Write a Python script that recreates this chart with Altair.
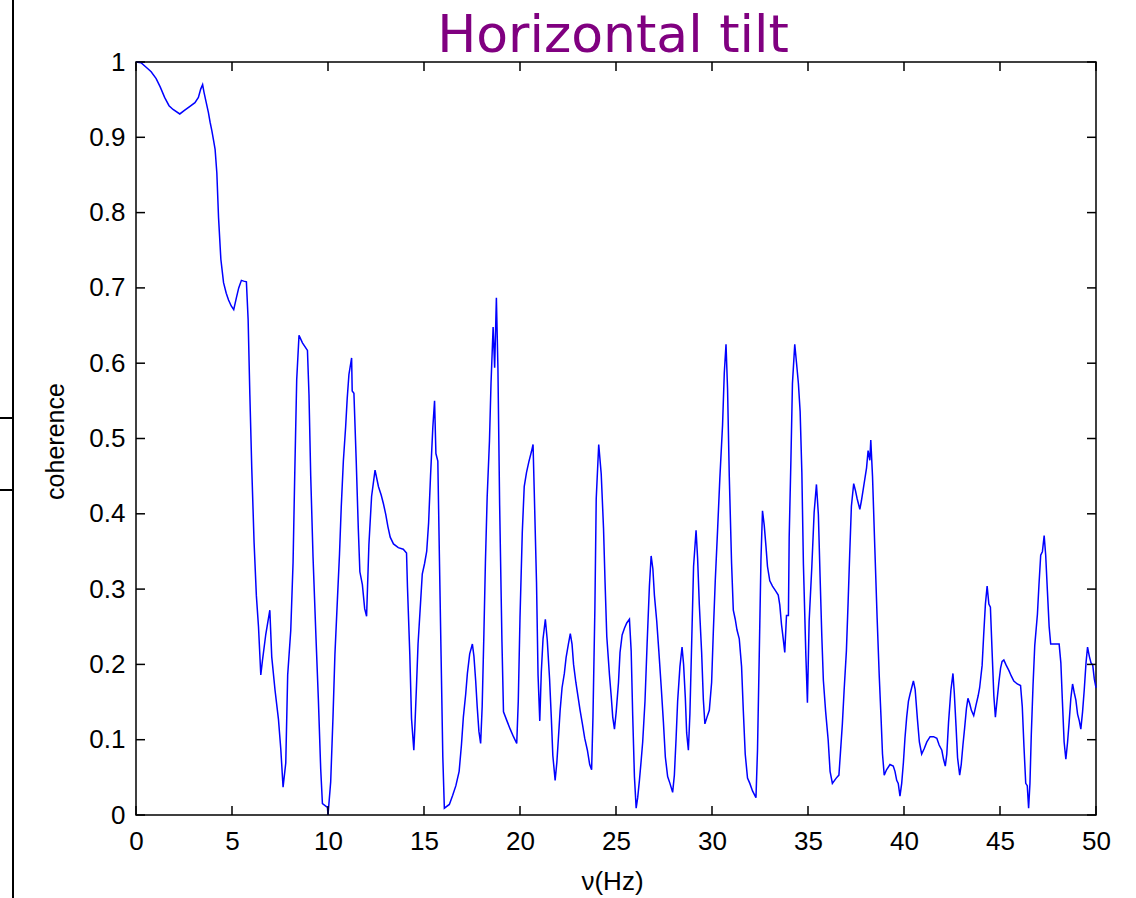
import altair as alt
import pandas as pd

# ---- data (frequency in Hz, coherence) ----
freq_hz = [
    0, 0.26, 0.53, 0.79, 1.05, 1.26, 1.49, 1.72, 1.93, 2.28, 2.54, 2.81, 3.07, 3.25, 3.37, 3.47, 3.54, 3.65, 3.77,
    3.86, 3.95, 4.04, 4.12, 4.21, 4.3, 4.42, 4.56, 4.7, 4.82, 4.96, 5.09, 5.23, 5.35, 5.49, 5.61, 5.75, 5.84, 5.93,
    6.03, 6.15, 6.27, 6.38, 6.5, 6.59, 6.76, 6.97, 7.07, 7.24, 7.42, 7.54, 7.66, 7.8, 7.9, 8.06, 8.18, 8.27, 8.37,
    8.49, 8.67, 8.93, 9.01, 9.1, 9.22, 9.36, 9.5, 9.62, 9.71, 9.97, 10.0, 10.14, 10.26, 10.36, 10.49, 10.6, 10.69,
    10.8, 10.92, 11.0, 11.09, 11.23, 11.26, 11.35, 11.47, 11.58, 11.66, 11.79, 11.91, 12.01, 12.13, 12.27, 12.45,
    12.63, 12.77, 12.89, 13.01, 13.12, 13.24, 13.41, 13.66, 13.92, 14.09, 14.14, 14.26, 14.35, 14.47, 14.52, 14.61,
    14.69, 14.83, 14.91, 15.03, 15.14, 15.24, 15.34, 15.46, 15.55, 15.62, 15.72, 15.8, 15.89, 15.98, 16.06, 16.32,
    16.49, 16.66, 16.83, 16.95, 17.05, 17.17, 17.26, 17.38, 17.52, 17.6, 17.69, 17.77, 17.86, 17.95, 18.03, 18.12,
    18.2, 18.29, 18.41, 18.49, 18.6, 18.68, 18.77, 18.85, 18.94, 19.06, 19.14, 19.32, 19.49, 19.66, 19.83, 19.91,
    20.0, 20.12, 20.22, 20.34, 20.46, 20.6, 20.68, 20.74, 20.86, 20.94, 21.03, 21.11, 21.2, 21.32, 21.42, 21.54,
    21.63, 21.71, 21.83, 21.92, 22.0, 22.09, 22.19, 22.31, 22.4, 22.52, 22.62, 22.71, 22.79, 22.91, 23.03, 23.13,
    23.25, 23.37, 23.51, 23.63, 23.73, 23.8, 23.9, 23.97,
    24.1, 24.23, 24.35, 24.43, 24.52, 24.66, 24.75, 24.83, 24.92, 25.01, 25.13, 25.21, 25.32, 25.44, 25.56, 25.7,
    25.79, 25.87, 25.96, 26.05, 26.13, 26.22, 26.31, 26.39, 26.51, 26.62, 26.74, 26.83, 26.92, 27.0, 27.12, 27.23,
    27.35, 27.47, 27.57, 27.69, 27.81, 27.95, 28.04, 28.13, 28.21, 28.33, 28.44, 28.52, 28.61, 28.68, 28.77, 28.85,
    28.94, 29.04, 29.17, 29.25, 29.34, 29.46, 29.55, 29.63, 29.74, 29.86, 29.98, 30.07, 30.17, 30.29, 30.41, 30.55,
    30.64, 30.73, 30.81, 30.9, 31.02, 31.11, 31.21, 31.3, 31.42, 31.54, 31.63, 31.73, 31.85, 31.97, 32.11, 32.29,
    32.37, 32.46, 32.55, 32.63, 32.72, 32.81, 32.89, 33.01, 33.15, 33.33, 33.45, 33.53, 33.62, 33.71, 33.79, 33.88,
    33.98, 34.02, 34.11, 34.19, 34.31, 34.4, 34.5, 34.59, 34.68, 34.76, 34.89, 34.97, 35.06, 35.2, 35.32, 35.44,
    35.54, 35.63, 35.72, 35.8, 35.92, 36.05, 36.15, 36.27,
    36.47, 36.61, 36.68, 36.79, 36.88, 37.0, 37.09, 37.17, 37.26, 37.38, 37.47, 37.56, 37.7, 37.78, 37.91, 38.05,
    38.13, 38.22, 38.27, 38.36, 38.48, 38.6, 38.71, 38.8, 38.88, 38.97, 39.09, 39.27, 39.44, 39.53, 39.62, 39.7,
    39.79, 39.88, 39.97, 40.05, 40.14, 40.23, 40.31, 40.4, 40.49, 40.58, 40.7, 40.8, 40.92, 41.05, 41.19, 41.36,
    41.54, 41.71, 41.83, 41.97, 42.06, 42.15, 42.23, 42.32, 42.44, 42.55, 42.62, 42.71, 42.79, 42.9, 42.98, 43.07,
    43.16, 43.25, 43.33, 43.42, 43.51, 43.63, 43.75, 43.86, 43.94, 44.07, 44.15, 44.24, 44.33, 44.42, 44.5, 44.59,
    44.68, 44.76, 44.85, 44.94, 45.03, 45.11, 45.2, 45.32, 45.46, 45.58, 45.72, 45.9, 46.07, 46.16, 46.25, 46.34,
    46.42, 46.49, 46.56, 46.63, 46.72, 46.81, 46.95, 47.03, 47.12, 47.21, 47.3, 47.38, 47.47, 47.56, 47.64, 47.82,
    48.08, 48.17, 48.25, 48.34, 48.43, 48.52, 48.6, 48.69, 48.78, 48.87, 48.95, 49.04, 49.13, 49.21, 49.3, 49.39,
    49.48, 49.56, 49.65, 49.74, 49.83, 49.91, 50.0,
]

coherence = [
    1.0, 0.999, 0.993, 0.987, 0.978, 0.967, 0.953, 0.942, 0.937, 0.931, 0.936, 0.941, 0.946, 0.953, 0.964, 0.97,
    0.96, 0.947, 0.933, 0.92, 0.909, 0.896, 0.884, 0.853, 0.793, 0.738, 0.707, 0.693, 0.684, 0.676, 0.671, 0.687,
    0.7, 0.71, 0.709, 0.708, 0.658, 0.558,
    0.46, 0.362, 0.291, 0.25, 0.186, 0.206, 0.24, 0.272, 0.21, 0.166, 0.127, 0.088, 0.037, 0.069, 0.186, 0.245,
    0.335, 0.455, 0.578, 0.637, 0.627, 0.617, 0.558, 0.45, 0.343, 0.245, 0.152, 0.061, 0.015, 0.01, 0.0, 0.044,
    0.13, 0.213, 0.286, 0.347, 0.409, 0.47, 0.516, 0.553, 0.585, 0.607, 0.563, 0.56, 0.47, 0.379, 0.323, 0.306,
    0.274, 0.264, 0.359, 0.423, 0.458,
    0.436, 0.425, 0.413, 0.399, 0.383, 0.369, 0.36, 0.355, 0.353, 0.348, 0.302, 0.214, 0.128, 0.086, 0.114, 0.172,
    0.227, 0.286, 0.32, 0.334, 0.35, 0.388, 0.45, 0.515, 0.55, 0.48, 0.47, 0.346, 0.211, 0.077, 0.009, 0.014,
    0.026, 0.039, 0.058, 0.093, 0.13, 0.16, 0.188, 0.214, 0.227, 0.211, 0.179, 0.144, 0.111, 0.095, 0.144, 0.241,
    0.337, 0.422, 0.497, 0.573, 0.648, 0.594, 0.687, 0.594, 0.411, 0.23, 0.137, 0.125, 0.114, 0.104, 0.095, 0.151,
    0.262, 0.376, 0.436, 0.455, 0.469, 0.483, 0.492, 0.432, 0.309, 0.186, 0.125, 0.19, 0.234, 0.26, 0.232, 0.181,
    0.13, 0.079, 0.046, 0.07, 0.102, 0.139, 0.169, 0.188, 0.209, 0.227, 0.241, 0.227, 0.2, 0.176, 0.156, 0.139,
    0.121, 0.102, 0.086, 0.067, 0.06, 0.13, 0.274, 0.42,
    0.492, 0.453, 0.381, 0.309, 0.237, 0.186, 0.158, 0.13, 0.114, 0.137, 0.176, 0.216, 0.239, 0.248, 0.255, 0.26,
    0.218, 0.132, 0.051, 0.009, 0.023, 0.046, 0.072, 0.097, 0.151, 0.227, 0.304, 0.344, 0.327, 0.292, 0.258, 0.218,
    0.172, 0.123, 0.077, 0.051, 0.042, 0.03, 0.053, 0.102, 0.151, 0.197, 0.223, 0.2, 0.156, 0.109, 0.086, 0.135,
    0.227, 0.33, 0.378, 0.341, 0.279, 0.216, 0.153, 0.121, 0.13, 0.139, 0.176, 0.244, 0.311, 0.378, 0.448, 0.518,
    0.587, 0.625, 0.566, 0.45, 0.334, 0.272, 0.26, 0.246, 0.234, 0.197, 0.139, 0.081, 0.049, 0.042, 0.032, 0.023,
    0.086, 0.211, 0.339, 0.404, 0.385, 0.357, 0.33, 0.311, 0.304, 0.297, 0.292, 0.279, 0.253, 0.234, 0.216, 0.265,
    0.265, 0.369, 0.471, 0.573, 0.625, 0.601, 0.573, 0.536, 0.455, 0.334, 0.211, 0.149, 0.258, 0.33, 0.402, 0.439,
    0.399, 0.316, 0.237, 0.179, 0.137, 0.1, 0.058, 0.042,
    0.049, 0.053, 0.079, 0.121, 0.165, 0.218, 0.283, 0.345, 0.41, 0.44, 0.431, 0.42, 0.406, 0.417, 0.438, 0.461,
    0.484, 0.471, 0.498, 0.45, 0.355, 0.262, 0.185, 0.132, 0.081, 0.053, 0.06, 0.067, 0.065, 0.058, 0.046, 0.042,
    0.025, 0.042, 0.07, 0.102, 0.13, 0.151, 0.16, 0.169, 0.178, 0.167, 0.127, 0.097, 0.081, 0.088, 0.097, 0.104,
    0.104, 0.102, 0.093, 0.086, 0.074, 0.065, 0.081, 0.123, 0.165, 0.188, 0.162, 0.118, 0.076, 0.053, 0.067, 0.093,
    0.116, 0.141, 0.155, 0.148, 0.139, 0.132, 0.146, 0.158, 0.169, 0.199, 0.239, 0.28, 0.304, 0.28, 0.276, 0.216,
    0.158, 0.13, 0.153, 0.176, 0.195, 0.204, 0.206, 0.199, 0.192, 0.185, 0.178, 0.174, 0.172, 0.144, 0.09, 0.042,
    0.039, 0.009, 0.042, 0.107, 0.172, 0.225, 0.267, 0.306, 0.345, 0.35, 0.371, 0.345, 0.297, 0.25, 0.227, 0.227,
    0.227, 0.202, 0.151, 0.097, 0.074, 0.097, 0.123, 0.155, 0.174, 0.162, 0.153, 0.134, 0.125, 0.114, 0.137, 0.167,
    0.202, 0.223, 0.211, 0.202, 0.199, 0.181, 0.169,
]

assert len(freq_hz) == len(coherence), (len(freq_hz), len(coherence))

x_ticks = [0, 5, 10, 15, 20, 25, 30, 35, 40, 45, 50]
y_ticks = [0, 0.1, 0.2, 0.3, 0.4, 0.5, 0.6, 0.7, 0.8, 0.9, 1]

title_text = "Horizontal tilt"
x_title = "ν(Hz)"
y_title = "coherence"

# ---- layout ----
W, H = 960, 753
PAD = {"left": 136, "top": 62, "right": 40, "bottom": 83}
FONT = "Liberation Sans, Arial, Helvetica, sans-serif"
TICK = 9

df = pd.DataFrame({"f": freq_hz, "c": coherence})
xt = pd.DataFrame({"f": x_ticks})
yt = pd.DataFrame({"c": y_ticks})

xscale = alt.Scale(domain=[0, 50], nice=False, zero=False)
yscale = alt.Scale(domain=[0, 1], nice=False, zero=False)

x_axis = alt.Axis(
    values=x_ticks, format="~g", title=x_title, grid=False, domain=False,
    ticks=False, tickSize=0, labelFont=FONT, labelFontSize=26, labelColor="black",
    labelPadding=13, labelFlush=False, labelOverlap=False,
    titleFont=FONT, titleFontSize=26, titleFontWeight="normal", titleColor="black",
    titleBaseline="alphabetic", titleAlign="center", titleX=476, titleY=74,
)
y_axis = alt.Axis(
    values=y_ticks, format="~g", title=y_title, grid=False, domain=False,
    ticks=False, tickSize=0, labelFont=FONT, labelFontSize=26, labelColor="black",
    labelPadding=11, labelFlush=False, labelOverlap=False, labelBaseline="middle",
    titleFont=FONT, titleFontSize=25, titleFontWeight="normal", titleColor="black",
    titleBaseline="alphabetic", titleAlign="center", titleAngle=270,
    titleX=-73, titleY=379,
)

X = alt.X("f:Q", scale=xscale, axis=x_axis, title=x_title)
Y = alt.Y("c:Q", scale=yscale, axis=y_axis, title=y_title)

line = alt.Chart(df).mark_line(color="#0000ff", strokeWidth=1.5).encode(x=X, y=Y)

tick_style = dict(color="black", strokeWidth=1.5)
bottom_ticks = alt.Chart(xt).mark_rule(**tick_style).encode(
    x=X, y=alt.value(H), y2=alt.value(H - TICK))
top_ticks = alt.Chart(xt).mark_rule(**tick_style).encode(
    x=X, y=alt.value(0), y2=alt.value(TICK))
left_ticks = alt.Chart(yt).mark_rule(**tick_style).encode(
    y=Y, x=alt.value(0), x2=alt.value(TICK))
right_ticks = alt.Chart(yt).mark_rule(**tick_style).encode(
    y=Y, x=alt.value(W), x2=alt.value(W - TICK))

one = alt.Data(values=[{"k": 0}])

# chart title, drawn as a text mark centred above the plot
title_mark = alt.Chart(one).mark_text(
    text=title_text, font="DejaVu Sans", fontSize=52, fontWeight="normal",
    color="#800080", align="center", baseline="alphabetic",
).encode(x=alt.value(477), y=alt.value(-10))

# stray frame edge on the far left of the reference picture
edge_v = alt.Chart(one).mark_rule(color="black", strokeWidth=2).encode(
    x=alt.value(-123), y=alt.value(-62), y2=alt.value(H + 83))
edge_h1 = alt.Chart(one).mark_rule(color="black", strokeWidth=2).encode(
    x=alt.value(-136), x2=alt.value(-123), y=alt.value(356))
edge_h2 = alt.Chart(one).mark_rule(color="black", strokeWidth=2).encode(
    x=alt.value(-136), x2=alt.value(-123), y=alt.value(428))

chart = alt.layer(
    line, bottom_ticks, top_ticks, left_ticks, right_ticks, edge_v, edge_h1, edge_h2, title_mark
).properties(
    width=W, height=H,
    autosize=alt.AutoSizeParams(type="none"),
    padding=PAD,
).configure(background="white").configure_view(stroke="black", strokeWidth=1.5)

chart.save("out.html", embed_options={"renderer": "svg", "actions": False})
